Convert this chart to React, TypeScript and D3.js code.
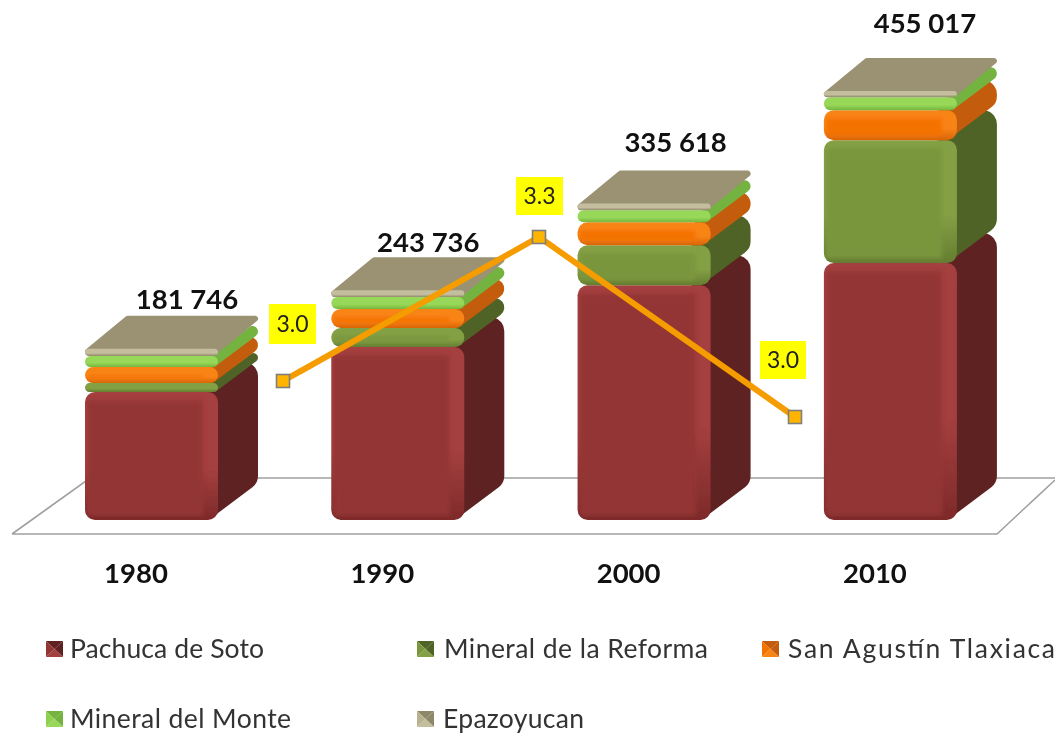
import React from "react";
import * as d3 from "d3";

const years = ["1980", "1990", "2000", "2010"];
const seriesNames = ["Pachuca de Soto", "Mineral de la Reforma", "San Agustín Tlaxiaca", "Mineral del Monte", "Epazoyucan"];
const pachuca = [135700, 183500, 249000, 272500];
const reforma = [9500, 20100, 42400, 130400];
const sanAgustin = [17000, 20100, 24400, 31800];
const monte = [11700, 12700, 12700, 13800];
const epazoyucan = [7846, 7336, 7118, 6517];
const totalLabels = ["181 746", "243 736", "335 618", "455 017"];
const totals = [181746, 243736, 335618, 455017];
const rateValues = [3.03, 3.33, 2.955];

const W = 1055, H = 733;
const front = ["#943535", "#7a963d", "#f47205", "#8fd14f", "#b8b190"];
const edge = ["#a53f3f", "#84a044", "#f98418", "#97d858", "#c4be9e"];
const low = ["#7e2a2a", "#647d30", "#d96404", "#76b53e", "#8f8868"];
const side = ["#5f2120", "#4f6426", "#c45c08", "#74b33f", "#8f8868"];
const topFace = "#9a9272";
const FONT = "Lato, Carlito, 'Open Sans', sans-serif";

const DX = 40, DY = -30, TOP_DY = -33;
const barW = 133;
const xStart = (y: string) => 85 + 246.3 * years.indexOf(y);
const y = d3.scaleLinear().domain([0, 455017]).range([520, 91]);
const rateY = d3.scaleLinear().domain([3.03, 3.33]).range([381, 237]);
const rateX = d3.scalePoint<number>().domain([0, 1, 2]).range([283, 795]);

const rows = years.map((yr, i) => ({ yr, a: pachuca[i], b: reforma[i], c: sanAgustin[i], d: monte[i], e: epazoyucan[i] }));
const stack = d3.stack<any>().keys(["a", "b", "c", "d", "e"]);
const layers = stack(rows);

const totalLift = [40, 38, 52, 58];
const totalShift = [102, 97, 98, 101];
const rateBoxes = [[269, 304, 47, 40], [516, 177, 47, 38], [760, 341, 46, 38]];
const rateLine = d3.line<number>().x((_, i) => rateX(i)!).y((d) => rateY(d));
const legendPos = [[46, 649], [417, 649], [762, 649], [46, 719], [417, 719]];
const legendTextX = [70, 444, 788, 70, 443];
const legendWidths = [194, 264, 267, 221, 141];

function Segment({ sx, top, bottom, s, idx }: any) {
  const h = bottom - top;
  const r = Math.min(10, h / 2);
  const rs = Math.min(14, h / 2);
  const pts = [
    [sx + barW - rs, top + rs],
    [sx + barW - rs + DX, top + rs + DY],
    [sx + barW - rs + DX, bottom - rs + DY],
    [sx + barW - rs, bottom - rs],
  ].map((p) => p.join(",")).join(" ");
  const isTop = s === 4;
  const id = `c${idx}-${s}`;
  return (
    <g>
      {!isTop && <polygon points={pts} fill={side[s]} stroke={side[s]} strokeWidth={2 * rs} strokeLinejoin="round" />}
      {isTop && (
        <polygon
          points={[
            [sx + 3, top + 3],
            [sx + barW - 3, top + 3],
            [sx + barW - 3 + DX, top + 3 + TOP_DY],
            [sx + 3 + DX, top + 3 + TOP_DY],
          ].map((p) => p.join(",")).join(" ")}
          fill={topFace}
          stroke={topFace}
          strokeWidth={6}
          strokeLinejoin="round"
        />
      )}
      <clipPath id={id}><rect x={sx} y={top} width={barW} height={h} rx={r} /></clipPath>
      <rect x={sx} y={top} width={barW} height={h} rx={r} fill={`url(#g${s})`} />
      {h > 14 && (
        <g clipPath={`url(#${id})`}>
          <rect x={sx + 2} y={top + 8} width={barW - 17} height={h - 13} fill={front[s]} filter="url(#soft)" />
        </g>
      )}
    </g>
  );
}

function Swatch({ px, py, s }: any) {
  const w = 17, h = 16;
  const cx = px + w / 2, cy = py + h / 2;
  const tri = (a: number[], b: number[], fill: string) => (
    <polygon points={`${a} ${b} ${cx},${cy}`} fill={fill} />
  );
  return (
    <g>
      {tri([px, py], [px + w, py], side[s])}
      {tri([px + w, py], [px + w, py + h], side[s])}
      {tri([px, py], [px, py + h], front[s])}
      {tri([px, py + h], [px + w, py + h], edge[s])}
    </g>
  );
}

export default function App() {
  return (
    <svg width={W} height={H} viewBox={`0 0 ${W} ${H}`} style={{ position: "absolute", left: 0, top: 0, background: "#fff" }} fontFamily={FONT}>
      <defs>
        <filter id="soft" x="-20%" y="-20%" width="140%" height="140%"><feGaussianBlur stdDeviation="2" /></filter>
        <filter id="blur" x="-2%" y="-2%" width="104%" height="104%"><feGaussianBlur stdDeviation="0.7" /></filter>
        {front.map((_, i) => (
          <linearGradient key={i} id={`g${i}`} x1="0" y1="0" x2="0" y2="1">
            <stop offset="0" stopColor={edge[i]} />
            <stop offset="0.6" stopColor={edge[i]} />
            <stop offset="1" stopColor={low[i]} />
          </linearGradient>
        ))}
      </defs>
      <g filter="url(#blur)">
        <path d="M12,534 L997,534 L1055,480 M12,534 L90,478 L1055,478" fill="none" stroke="#a0a0a0" strokeWidth={1.6} />
        {years.map((yr, i) => (
          <g key={yr}>
            {layers.map((l, s) => (
              <Segment key={s} sx={xStart(yr)} top={y(l[i][1])} bottom={y(l[i][0])} s={s} idx={i} />
            ))}
          </g>
        ))}
        <path d={rateLine(rateValues)!} fill="none" stroke="#f59c00" strokeWidth={6} />
        {rateValues.map((v, i) => (
          <rect key={i} x={rateX(i)! - 6.5} y={rateY(v) - 6.5} width={13} height={13} fill="#ffb400" stroke="#7f7f7f" strokeWidth={1.6} />
        ))}
        {rateValues.map((v, i) => {
          const [bx, by, bw, bh] = rateBoxes[i];
          return (
            <g key={i}>
              <rect x={bx} y={by} width={bw} height={bh} fill="#ffff00" />
              <text x={bx + bw / 2} y={by + bh / 2 + 8} textAnchor="middle" fontSize={23} fill="#222">{v.toFixed(1)}</text>
            </g>
          );
        })}
        {seriesNames.map((n, i) => (
          <Swatch key={n} px={legendPos[i][0]} py={legendPos[i][1] - 8} s={i} />
        ))}
      </g>
      {years.map((yr, i) => (
        <text key={yr} x={xStart(yr) + totalShift[i]} y={y(totals[i]) - totalLift[i]} textAnchor="middle" fontWeight={700} fontSize={27.5} fill="#111">{totalLabels[i]}</text>
      ))}
      {years.map((yr) => (
        <text key={yr} x={xStart(yr) + 51} y={583} textAnchor="middle" fontWeight={700} fontSize={27.5} fill="#111">{yr}</text>
      ))}
      {seriesNames.map((n, i) => (
        <text key={n} x={legendTextX[i]} y={legendPos[i][1] + 9} fontSize={26.5} fill="#333" textLength={legendWidths[i]} lengthAdjust="spacing">{n}</text>
      ))}
    </svg>
  );
}
